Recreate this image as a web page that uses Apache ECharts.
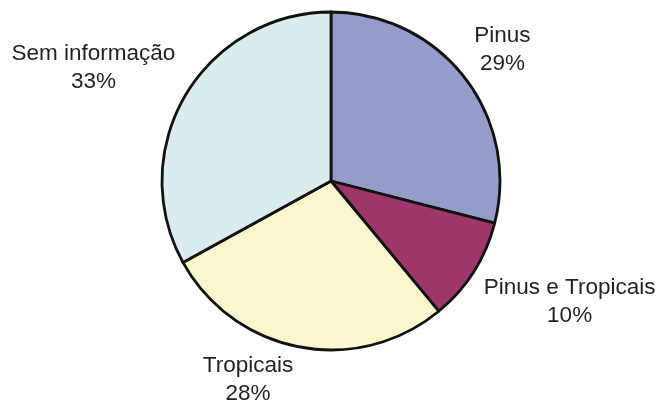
<!DOCTYPE html>
<html>
<head>
<meta charset="utf-8">
<script src="https://cdn.jsdelivr.net/npm/echarts@6/dist/echarts.min.js"></script>
<style>
html,body{margin:0;padding:0;background:#fff;}
#chart{width:657px;height:410px;}
</style>
</head>
<body>
<div id="chart"></div>
<script>
const categories = ['Pinus', 'Pinus e Tropicais', 'Tropicais', 'Sem informação'];
const values = [29, 10, 28, 33];
const colors = ['#949CC9', '#9E3669', '#FAF7CF', '#DAECEE'];

const chart = echarts.init(document.getElementById('chart'), null, {renderer: 'canvas'});
const CENTER = [331, 181];

const option = {
  backgroundColor: '#ffffff',
  animation: false,
  series: [{
    type: 'pie',
    center: CENTER,
    radius: 169,
    startAngle: 90,
    clockwise: true,
    avoidLabelOverlap: false,
    data: categories.map((c, i) => ({name: c, value: values[i], itemStyle: {color: colors[i]}})),
    itemStyle: {borderColor: '#111111', borderWidth: 2.8},
    label: {
      show: true,
      position: 'outside',
      formatter: '{b}\n{c}%',
      fontFamily: 'Liberation Sans, Arial, sans-serif',
      fontSize: 22.5,
      lineHeight: 28,
      color: '#231F20'
    },
    labelLine: {show: false, length: 6, length2: 0},
    labelLayout: function (p) {
      const r = p.labelRect;
      const right = p.align !== 'right';
      const ax = right ? r.x : r.x + r.width;
      const ay = r.y + r.height / 2;
      const down = ay > CENTER[1];
      // glyph boxes sit inside the line boxes, so trim the empty descender/leading space
      return {
        x: ax + (right ? r.width / 2 : -r.width / 2),
        y: ay + (down ? r.height / 2 - 1 : -r.height / 2 + 4),
        align: 'center',
        verticalAlign: 'middle'
      };
    },
    emphasis: {disabled: true}
  }]
};
chart.setOption(option);
</script>
</body>
</html>
